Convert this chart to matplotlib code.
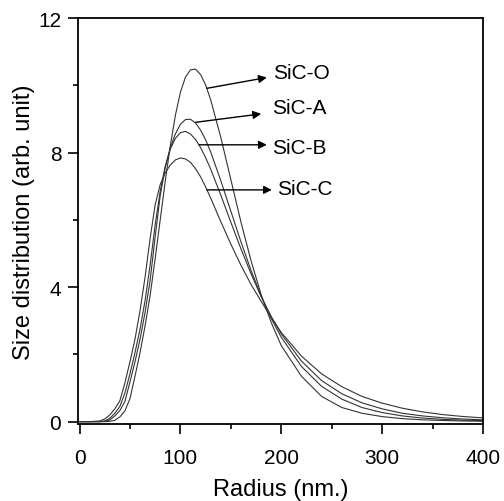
import matplotlib
matplotlib.use("Agg")
import matplotlib.pyplot as plt
from matplotlib.ticker import MultipleLocator

plt.rcParams["font.family"] = ["Liberation Sans", "DejaVu Sans"]

# radius grid (nm) and curves
radius = [0, 10, 20, 25, 30, 35, 40, 45, 50, 55, 60, 65, 70, 75, 80, 85, 90, 95,
          100, 105, 110, 115, 120, 125, 130, 140, 150, 160, 170, 180, 190, 200,
          220, 240, 260, 280, 300, 320, 340, 360, 380, 400]

sic_o = [0, 0, 0, 0, 0.01, 0.04, 0.14, 0.32, 0.68, 1.35, 2.05, 2.85, 3.75, 4.85,
         6.0, 7.15, 8.2, 9.1, 9.79, 10.24, 10.46, 10.48, 10.32, 10.01, 9.57,
         8.46, 7.20, 5.94, 4.79, 3.78, 2.95, 2.26, 1.35, 0.75, 0.42, 0.25, 0.15,
         0.09, 0.055, 0.035, 0.02, 0.012]
sic_a = [0, 0, 0, 0.01, 0.05, 0.17, 0.33, 0.6, 1.18, 1.78, 2.45, 3.25, 4.2, 5.5,
         6.72, 7.55, 8.15, 8.55, 8.84, 8.98, 8.99, 8.88, 8.67, 8.38, 8.02,
         7.17, 6.26, 5.35, 4.50, 3.74, 3.07, 2.51, 1.64, 1.05, 0.67, 0.42, 0.27,
         0.17, 0.107, 0.068, 0.044, 0.028]
sic_b = [0, 0, 0, 0.02, 0.1, 0.25, 0.45, 0.85, 1.42, 2.05, 2.75, 3.6, 4.65, 5.85,
         6.85, 7.6, 8.1, 8.42, 8.59, 8.63, 8.55, 8.39, 8.15, 7.85, 7.51,
         6.74, 5.93, 5.14, 4.40, 3.72, 3.13, 2.61, 1.80, 1.22, 0.83, 0.56, 0.38,
         0.25, 0.17, 0.116, 0.079, 0.054]
sic_c = [0, 0, 0.02, 0.08, 0.2, 0.38, 0.62, 1.15, 1.78, 2.45, 3.3, 4.3, 5.45, 6.45,
         7.05, 7.4, 7.63, 7.78, 7.84, 7.81, 7.71, 7.52, 7.28, 6.98, 6.65,
         5.95, 5.28, 4.65, 4.08, 3.58, 3.10, 2.65, 1.95, 1.42, 1.04, 0.75, 0.55,
         0.40, 0.29, 0.21, 0.153, 0.112]

labels = ["SiC-O", "SiC-A", "SiC-B", "SiC-C"]
series = [sic_o, sic_a, sic_b, sic_c]
# (arrow start on curve, arrow tip / text position)
arrow_from = [(126.3, 9.91), (115.4, 8.90), (118.6, 8.23), (126.3, 6.89)]
arrow_to = [(185.7, 10.23), (180.1, 9.15), (185.7, 8.23), (190.7, 6.89)]
text_pos = [(191.7, 10.37), (191.3, 9.33), (191.3, 8.16), (195.7, 6.94)]

fig = plt.figure(figsize=(5.04, 5.02), dpi=100)
ax = fig.add_axes([78 / 504, 1 - 425 / 502, (483 - 78) / 504, (425 - 19) / 502])

for ys in series:
    ax.plot(radius, ys, color="#333333", lw=0.8)

for lab, a0, a1, tp in zip(labels, arrow_from, arrow_to, text_pos):
    ax.annotate("", xy=a1, xytext=a0,
                arrowprops=dict(arrowstyle="-|>", color="black", lw=1.0,
                                mutation_scale=12, shrinkA=0, shrinkB=0))
    ax.text(tp[0], tp[1], lab, fontsize=15, ha="left", va="center")

ax.set_xlim(-1.5, 400)
ax.set_ylim(-0.07, 12)
ax.xaxis.set_major_locator(MultipleLocator(100))
ax.xaxis.set_minor_locator(MultipleLocator(50))
ax.yaxis.set_major_locator(MultipleLocator(4))
ax.yaxis.set_minor_locator(MultipleLocator(2))
ax.tick_params(which="major", direction="out", length=7, width=1.2, labelsize=15)
ax.tick_params(axis="x", which="major", pad=10)
ax.tick_params(axis="y", which="major", pad=5)
ax.tick_params(which="minor", direction="out", length=3.5, width=1.2)
for sp in ax.spines.values():
    sp.set_linewidth(1.3)

ax.set_xlabel("Radius (nm.)", fontsize=17, labelpad=8)
ax.set_ylabel("Size distribution (arb. unit)", fontsize=17, labelpad=2)

fig.savefig("out.png", dpi=100)
